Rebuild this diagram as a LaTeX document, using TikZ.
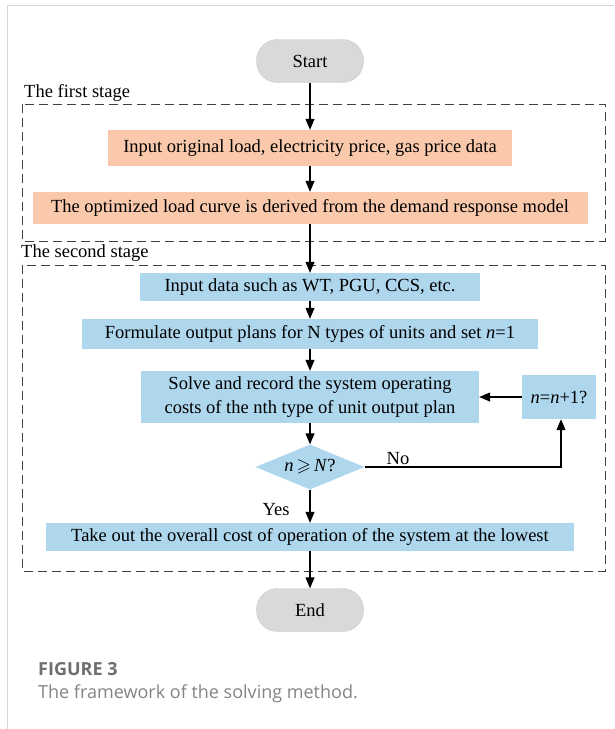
\documentclass[tikz,border=0pt]{standalone}
\usepackage{fontspec}
\setmainfont{Liberation Serif}
\newfontfamily\capfont{Open Sans}
\usepackage{amssymb}
\usetikzlibrary{arrows.meta,shapes.geometric}
\definecolor{orangebox}{RGB}{250,201,172}
\definecolor{bluebox}{RGB}{174,214,237}
\definecolor{pillgray}{RGB}{217,217,217}
\definecolor{pillborder}{RGB}{200,200,200}
\definecolor{framegray}{RGB}{215,215,215}
\definecolor{capgray}{RGB}{110,110,110}
\begin{document}
\begin{tikzpicture}[x=1pt,y=-1pt,
  every node/.style={font=\fontsize{18.5}{24}\selectfont, inner sep=0pt},
  pill/.style={draw=pillborder, fill=pillgray, rounded corners=21pt, minimum width=107pt, minimum height=43pt},
  obox/.style={fill=orangebox, minimum height=#1},
  bbox/.style={fill=bluebox, minimum height=#1},
  dbox/.style={draw=black!75, dashed, dash pattern=on 9pt off 5pt, line width=1pt},
  arr/.style={-{Triangle[length=11pt,width=9pt]}, line width=1.1pt},
  lbl/.style={anchor=west}
]
\useasboundingbox (0,0) rectangle (614,729);
\fill[white] (0,0) rectangle (614,729);
% page frame
\draw[framegray, line width=1pt] (614,5) -- (7,5) -- (7,729);

% dashed stage boxes
\draw[dbox] (22,104) rectangle (605,241);
\draw[dbox] (22,265) rectangle (605,571);
\node[lbl] (l1) at (24,93) {The first stage};
\node[lbl] (l2) at (21,253) {The second stage};

% nodes
\node[pill] (start) at (310,61) {Start};
\node[obox=36pt, minimum width=404pt] (b1) at (310,148) {Input original load, electricity price, gas price data};
\node[obox=32pt, minimum width=555pt] (b2) at (310,208) {The optimized load curve is derived from the demand response model};
\node[bbox=28pt, minimum width=340pt] (b3) at (310,287) {Input data such as WT, PGU, CCS, etc.};
\node[bbox=30pt, minimum width=456pt] (b4) at (310,334) {Formulate output plans for N types of units and set \textit{n}=1};
\node[bbox=52pt, minimum width=338pt, align=center] (b5) at (310,397) {Solve and record the system operating\\costs of the nth type of unit output plan};
\node[bbox=44pt, minimum width=74pt] (b6) at (559,397) {\textit{n}=\textit{n}+1?};
\node[diamond, fill=bluebox, minimum width=109pt, minimum height=45pt, aspect=2.4] (d) at (310,467) {\textit{n}\,$\geqslant$\,\textit{N}?};
\node[bbox=28pt, minimum width=528pt] (b7) at (310,537) {Take out the overall cost of operation of the system at the lowest};
\node[pill] (end) at (310,610) {End};

\coordinate (c1) at (561,467);

% connectors
\draw[arr] (start) -- (b1);
\draw[arr] (b1) -- (b2);
\draw[arr] (b2) -- (b3);
\draw[arr] (b3) -- (b4);
\draw[arr] (b4) -- (b5);
\draw[arr] (b5) -- (d);
\draw[arr] (d) -- (b7);
\draw[arr] (b7) -- (end);
\draw[arr] (d.east) -- (c1) -- (b6.south -| c1);
\draw[arr] (b6) -- (b5);

\node (no) at (398,459) {No};
\node (yes) at (276,510) {Yes};

% caption
\node[lbl, font=\capfont\bfseries\fontsize{18}{22}\selectfont, text=capgray] (fig) at (38,669) {FIGURE 3};
\node[lbl, font=\capfont\fontsize{18}{22}\selectfont, text=capgray!85] (cap) at (38,694) {The framework of the solving method.};
\end{tikzpicture}
\end{document}
